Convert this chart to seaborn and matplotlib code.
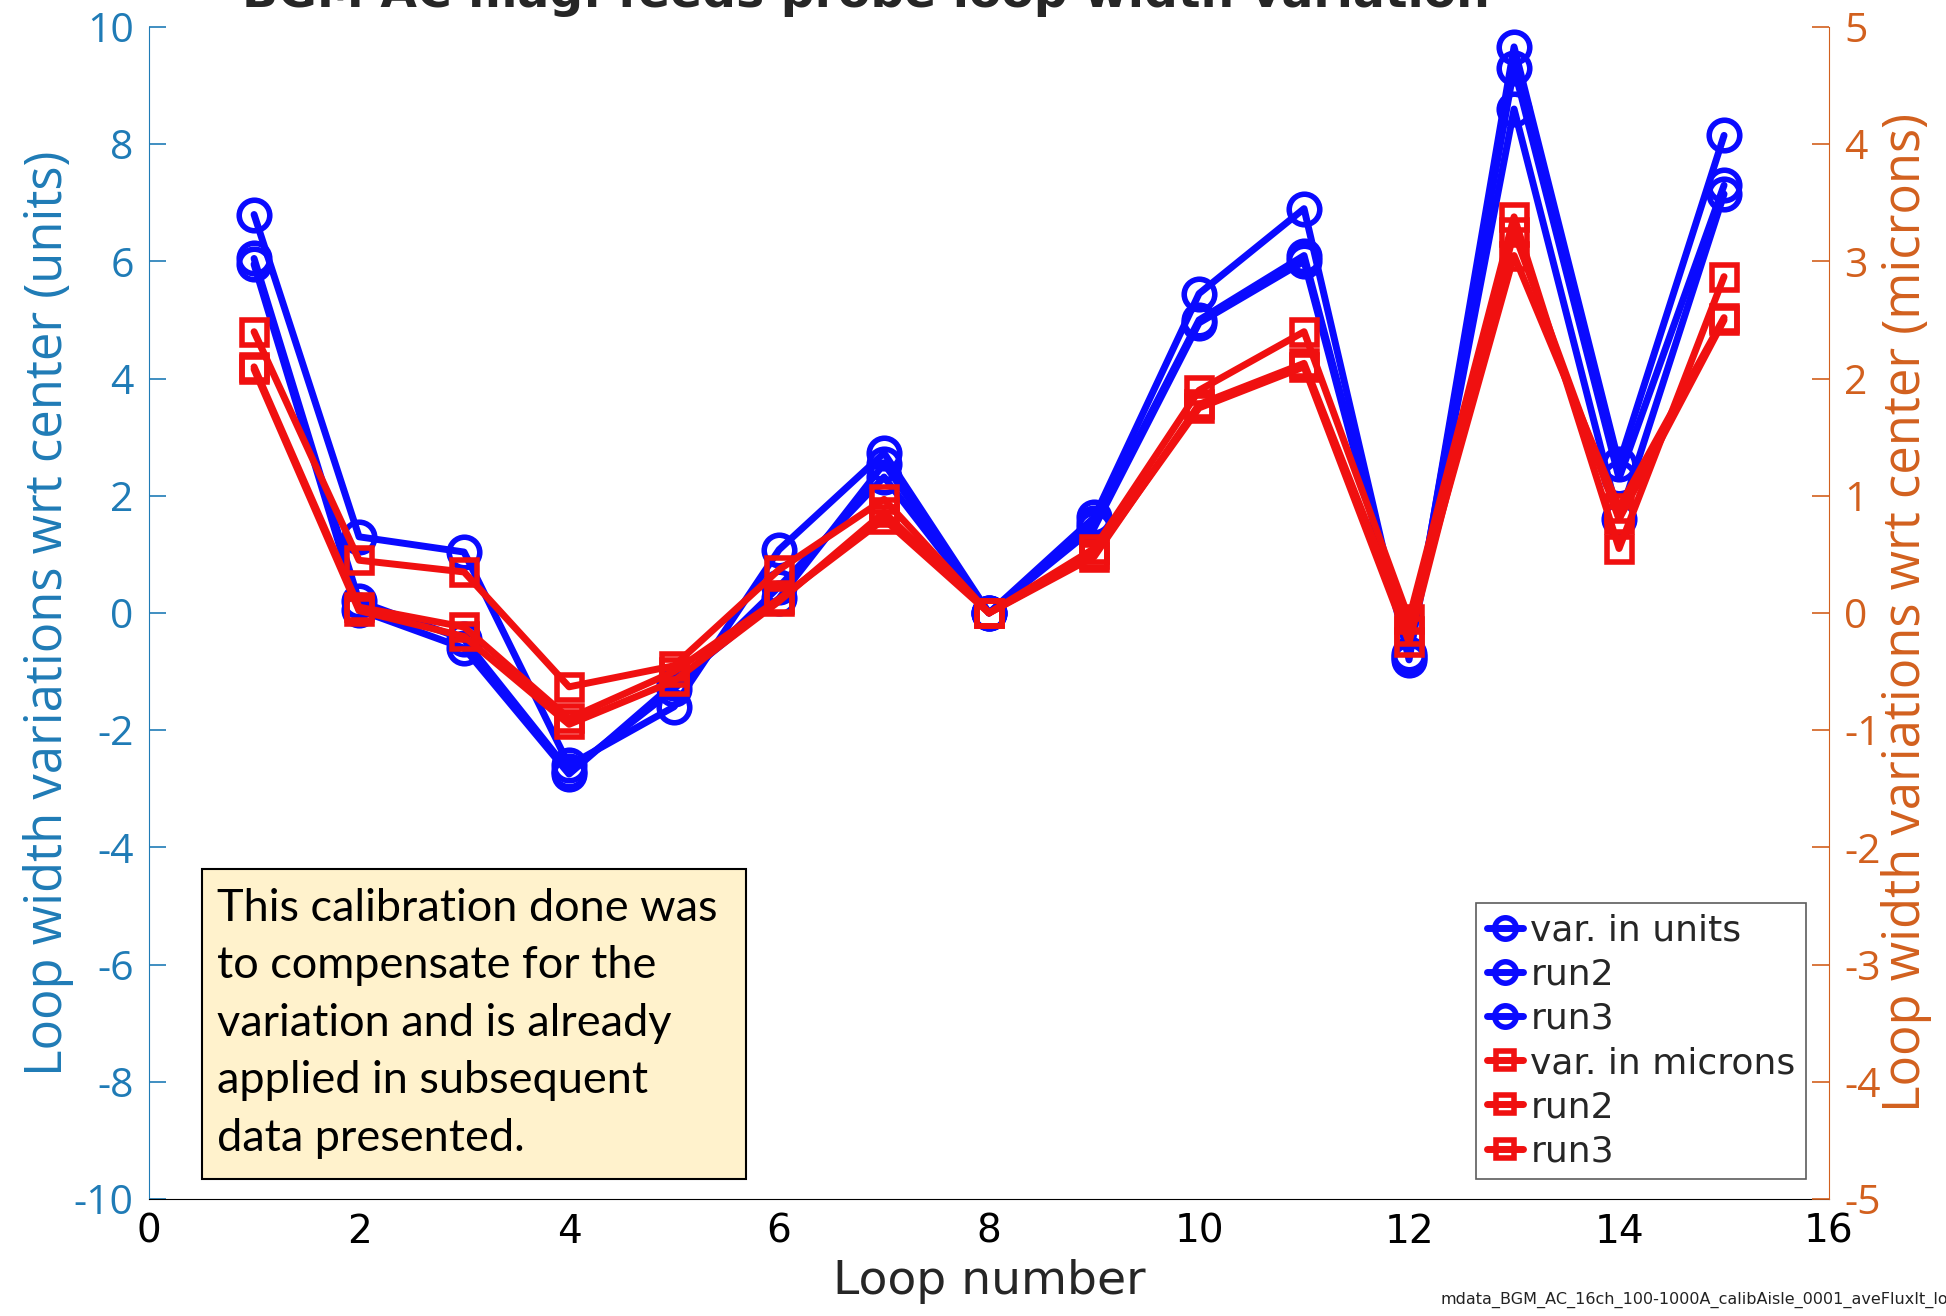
import numpy as np
import pandas as pd
import seaborn as sns
import matplotlib.pyplot as plt
from matplotlib.patches import Rectangle

sns.set_style("white")
plt.rcParams["font.family"] = ["DejaVu Sans"]
plt.rcParams["axes.unicode_minus"] = False

# ---------------------------------------------------------------------------
# data
# ---------------------------------------------------------------------------
loops = list(range(1, 16))

units_run1 = [6.8, 1.3, 1.04, -2.6, -1.6, 1.08, 2.73, 0.0, 1.63, 5.45, 6.9, -0.8, 9.66, 2.55, 8.15]
units_run2 = [6.05, 0.2, -0.45, -2.7, -1.3, 0.45, 2.32, 0.0, 1.53, 5.0, 6.1, -0.7, 9.3, 2.3, 7.3]
units_run3 = [5.95, 0.05, -0.6, -2.75, -1.2, 0.25, 2.55, 0.0, 1.45, 4.95, 6.0, -0.75, 8.6, 1.6, 7.15]

microns_run1 = [2.4, 0.45, 0.35, -0.63, -0.45, 0.37, 0.97, 0.0, 0.55, 1.9, 2.4, -0.05, 3.38, 0.55, 2.87]
microns_run2 = [2.1, 0.05, -0.12, -0.9, -0.5, 0.12, 0.8, 0.0, 0.5, 1.75, 2.1, -0.25, 3.25, 0.8, 2.5]
microns_run3 = [2.08, 0.02, -0.2, -0.95, -0.58, 0.1, 0.86, 0.0, 0.48, 1.78, 2.13, -0.15, 3.05, 0.9, 2.52]

unit_labels = ["var. in units", "run2", "run3"]
micron_labels = ["var. in microns", "run2", "run3"]

LEFT_C = "#1f7bb6"
RIGHT_C = "#d2601e"
BLUE = "#0a0aff"
RED = "#f01010"

fig = plt.figure(figsize=(19.46, 13.16), dpi=100)
ax = fig.add_axes([0.0766, 0.0889, 0.8633, 0.8906])
ax2 = ax.twinx()

for vals, lab in zip([units_run1, units_run2, units_run3], unit_labels):
    sns.lineplot(x=loops, y=vals, ax=ax, color=BLUE, lw=5, marker="o", ms=22,
                 markerfacecolor="none", markeredgecolor=BLUE, markeredgewidth=4,
                 label=lab, legend=False)

for vals, lab in zip([microns_run1, microns_run2, microns_run3], micron_labels):
    sns.lineplot(x=loops, y=vals, ax=ax2, color=RED, lw=5, marker="s", ms=18,
                 markerfacecolor="none", markeredgecolor=RED, markeredgewidth=4,
                 label=lab, legend=False)

ax.set_xlim(0, 16)
ax.set_ylim(-10, 10)
ax2.set_ylim(-5, 5)
ax.set_xticks(range(0, 17, 2))
ax.set_yticks(range(-10, 11, 2))
ax2.set_yticks(range(-5, 6, 1))

for a in (ax, ax2):
    a.spines["top"].set_visible(False)
    a.set_facecolor("none")
ax.spines["left"].set_color(LEFT_C)
ax.spines["right"].set_visible(False)
ax2.spines["left"].set_visible(False)
ax2.spines["right"].set_color(RIGHT_C)
ax.spines["bottom"].set_color("black")
ax2.spines["bottom"].set_visible(False)

ax.tick_params(axis="x", direction="in", length=10, width=1, pad=10,
               labelsize=28, colors="black", top=False)
ax.tick_params(axis="y", direction="in", length=12, width=1.2, pad=11,
               labelsize=29.5, colors=LEFT_C, left=True)
ax2.tick_params(axis="y", direction="in", length=12, width=1.2, pad=11,
                labelsize=29.5, colors=RIGHT_C, right=True)
for t in ax.get_yticklabels() + ax2.get_yticklabels():
    t.set_family("Open Sans")

ax.set_xlabel("Loop number", fontsize=34, labelpad=6)
ax.set_ylabel("Loop width variations wrt center (units)", fontsize=36.5,
              color=LEFT_C, family="Open Sans", labelpad=0)
ax2.set_ylabel("Loop width variations wrt center (microns)", fontsize=36.5,
               color=RIGHT_C, family="Open Sans", labelpad=0)

handles = ax.get_lines()[:3] + ax2.get_lines()[:3]
labels = unit_labels + micron_labels
leg = ax2.legend(handles, labels, loc="lower right", bbox_to_anchor=(0.9865, 0.017),
                 fontsize=26, handlelength=1.0, handletextpad=0.2,
                 labelspacing=0.28, borderpad=0.3, borderaxespad=0,
                 frameon=True, fancybox=False, markerscale=0.7)
leg.get_frame().set_edgecolor("#333333")
leg.get_frame().set_linewidth(1.2)

fig.text(0.445, 1.004, "BGM AC mag. feeds probe loop width variation",
         fontsize=34, fontweight="bold", ha="center", va="center")

# annotation box
fig.add_artist(Rectangle((0.1038, 0.1041), 0.2796, 0.2356, transform=fig.transFigure,
                         facecolor="#fff2cc", edgecolor="black", linewidth=1.5,
                         zorder=5))
fig.text(0.1115, 0.3255,
         "This calibration done was\nto compensate for the\nvariation and is already\n"
         "applied in subsequent\ndata presented.",
         fontsize=32.5, family="Lato", color="black", ha="left", va="top",
         linespacing=1.5, zorder=6)

fig.text(0.74, 0.012, "mdata_BGM_AC_16ch_100-1000A_calibAisle_0001_aveFluxIt_loop",
         fontsize=11.5, color="#222222", ha="left", va="center")

fig.savefig("out.png", dpi=100)
